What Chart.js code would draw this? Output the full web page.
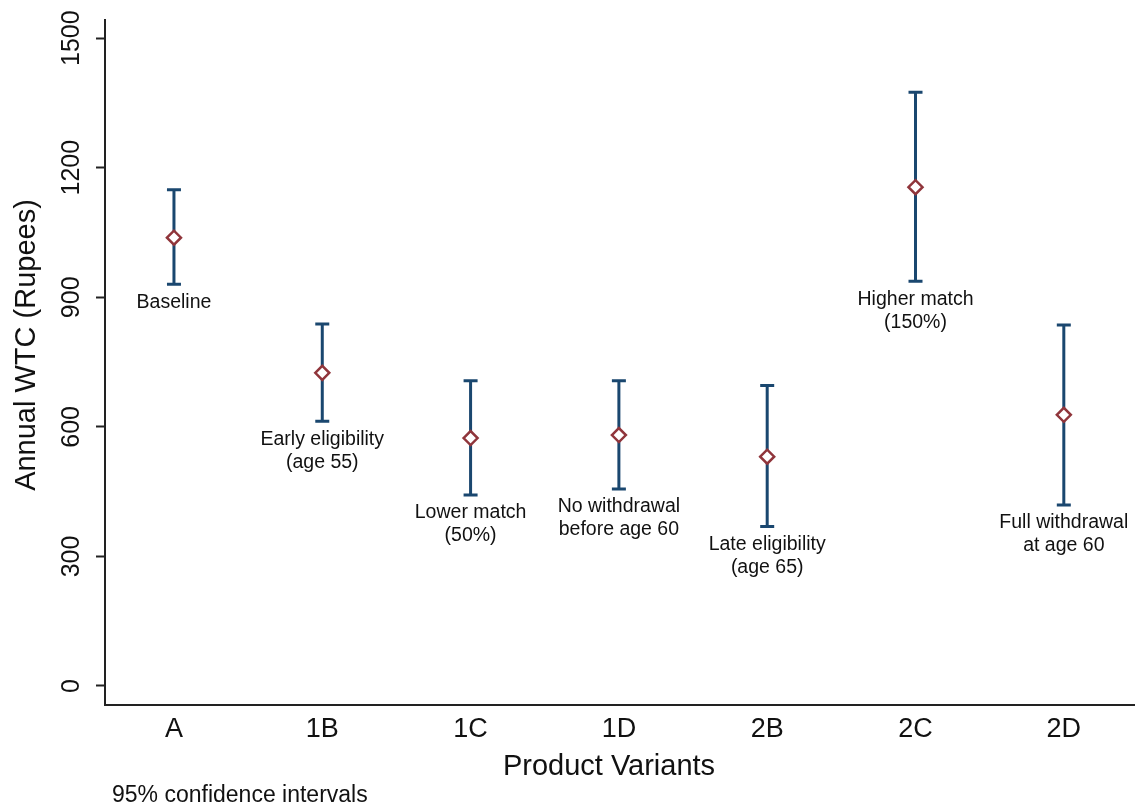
<!DOCTYPE html>
<html>
<head>
<meta charset="utf-8">
<title>Annual WTC by product variant</title>
<script src="https://cdn.jsdelivr.net/npm/chart.js@4/dist/chart.umd.min.js"></script>
<style>
  html, body { margin: 0; padding: 0; background: #ffffff; }
  #wrap { width: 1135px; height: 809px; }
</style>
</head>
<body>
<div id="wrap"><canvas id="chart" width="1135" height="809"></canvas></div>
<script>
// Product variants on the horizontal axis
const categories = ['A', '1B', '1C', '1D', '2B', '2C', '2D'];
// Mean annual willingness to contribute (Rupees)
const meanWTC = [1038, 725, 574, 581, 531, 1155, 628];
// 95% confidence interval bounds
const ciLower = [930, 613, 442, 456, 369, 937, 419];
const ciUpper = [1149, 838, 707, 707, 696, 1375, 836];
// Descriptions printed under each interval
const variantNotes = [
  ['Baseline'],
  ['Early eligibility', '(age 55)'],
  ['Lower match', '(50%)'],
  ['No withdrawal', 'before age 60'],
  ['Late eligibility', '(age 65)'],
  ['Higher match', '(150%)'],
  ['Full withdrawal', 'at age 60']
];
// Vertical axis ticks
const yTicks = [0, 300, 600, 900, 1200, 1500];

const FONT = "'Liberation Sans', Arial, sans-serif";
const NAVY = '#1a476f';
const MAROON = '#90353b';
const INK = '#111111';

// Whiskers with end caps, drawn underneath the mean markers
const ciBars = {
  id: 'ciBars',
  beforeDatasetsDraw(chart) {
    const { ctx, scales: { x, y } } = chart;
    ctx.save();
    ctx.strokeStyle = NAVY;
    ctx.lineWidth = 3;
    ctx.lineCap = 'butt';
    categories.forEach((c, i) => {
      const px = x.getPixelForValue(i);
      const top = y.getPixelForValue(ciUpper[i]);
      const bot = y.getPixelForValue(ciLower[i]);
      ctx.beginPath();
      ctx.moveTo(px, top); ctx.lineTo(px, bot);
      ctx.moveTo(px - 7, top); ctx.lineTo(px + 7, top);
      ctx.moveTo(px - 7, bot); ctx.lineTo(px + 7, bot);
      ctx.stroke();
    });
    ctx.restore();
  }
};

// Rotated tick labels, axis titles, notes under each interval and the footnote
const textLayer = {
  id: 'textLayer',
  afterDraw(chart) {
    const { ctx, scales: { x, y } } = chart;
    ctx.save();
    ctx.fillStyle = INK;

    // y tick labels, reading bottom to top
    ctx.font = `25px ${FONT}`;
    ctx.textAlign = 'center';
    ctx.textBaseline = 'middle';
    y.ticks.forEach(t => {
      const py = y.getPixelForValue(t.value);
      ctx.save();
      ctx.translate(72, py);
      ctx.rotate(-Math.PI / 2);
      ctx.fillText(String(t.value), 0, 0);
      ctx.restore();
    });

    // y axis title
    ctx.save();
    ctx.font = `29px ${FONT}`;
    ctx.translate(27, 345);
    ctx.rotate(-Math.PI / 2);
    ctx.fillText('Annual WTC (Rupees)', 0, 0);
    ctx.restore();

    // x axis title
    ctx.font = `29px ${FONT}`;
    ctx.fillText('Product Variants', 609, 767);

    // notes under each confidence interval
    ctx.font = `19.5px ${FONT}`;
    variantNotes.forEach((lines, i) => {
      const px = x.getPixelForValue(i);
      const base = y.getPixelForValue(ciLower[i]) + 18;
      lines.forEach((ln, k) => ctx.fillText(ln, px, base + k * 23));
    });

    // footnote
    ctx.font = `23px ${FONT}`;
    ctx.textAlign = 'left';
    ctx.textBaseline = 'alphabetic';
    ctx.fillText('95% confidence intervals', 112, 802);
    ctx.restore();
  }
};

new Chart(document.getElementById('chart'), {
  type: 'scatter',
  data: {
    datasets: [{
      data: meanWTC.map((v, i) => ({ x: i, y: v })),
      pointStyle: 'rectRot',
      pointRadius: 7,
      pointHoverRadius: 7,
      pointBorderWidth: 2.5,
      pointBorderColor: MAROON,
      pointBackgroundColor: '#ffffff',
      showLine: false
    }]
  },
  options: {
    responsive: false,
    animation: false,
    devicePixelRatio: 1,
    layout: { autoPadding: false, padding: { top: 20, right: 0, bottom: 0, left: 0 } },
    plugins: { legend: { display: false }, tooltip: { enabled: false } },
    scales: {
      x: {
        type: 'linear',
        min: -0.465,
        max: 6.48,
        afterBuildTicks: s => { s.ticks = categories.map((c, i) => ({ value: i })); },
        ticks: {
          callback: v => categories[v],
          font: { family: FONT, size: 27 },
          color: INK,
          padding: 8,
          maxRotation: 0,
          autoSkip: false
        },
        grid: { display: false, drawTicks: false },
        border: { display: true, color: '#222222', width: 2 },
        title: { display: false },
        afterFit: s => { s.height = 104; s.paddingLeft = 0; s.paddingRight = 0; }
      },
      y: {
        type: 'linear',
        min: -44,
        max: 1542,
        afterBuildTicks: s => { s.ticks = yTicks.map(v => ({ value: v })); },
        ticks: { display: false },
        grid: {
          drawOnChartArea: false,
          drawTicks: true,
          tickLength: 9,
          tickWidth: 2,
          tickColor: '#222222'
        },
        border: { display: true, color: '#222222', width: 2 },
        afterFit: s => { s.width = 105; s.paddingTop = 0; s.paddingBottom = 0; }
      }
    }
  },
  plugins: [ciBars, textLayer]
});
</script>
</body>
</html>
